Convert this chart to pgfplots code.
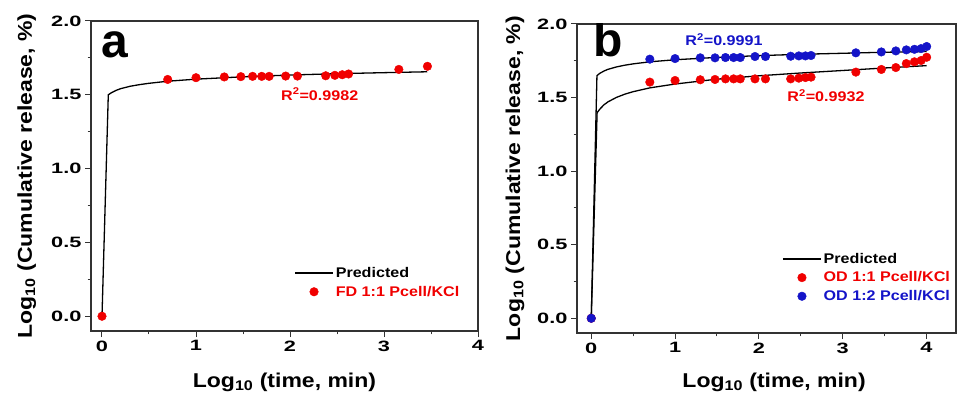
\documentclass[border=0pt]{standalone}
\usepackage{fontspec}
\setmainfont{Liberation Sans}
\newfontfamily\lblfont[FakeStretch=1.15]{Liberation Sans}
\newfontfamily\tickfont[FakeStretch=1.45]{Liberation Sans}
\usepackage{pgfplots}
\pgfplotsset{compat=1.18}
\definecolor{myred}{RGB}{240,0,0}
\definecolor{myblue}{RGB}{20,20,200}
\pgfplotsset{
  panel/.style={
    scale only axis,
    axis line style={black!80, line width=1.2pt},
    every tick/.style={black!80, line width=1pt},
    tick pos=left, tick align=outside,
    major tick length=6pt, minor tick length=3.5pt,
    ymin=-0.1, ymax=2.0,
    ytick={0,0.5,1,1.5,2}, minor ytick={0.25,0.75,1.25,1.75},
    xtick={0,1,2,3,4}, minor xtick={0.5,1.5,2.5,3.5},
    /pgf/number format/assume math mode=true,
    ticklabel style={font=\tickfont\bfseries\fontsize{15}{17}\selectfont},
    yticklabel style={/pgf/number format/fixed, /pgf/number format/fixed zerofill, /pgf/number format/precision=1},
    label style={font=\lblfont\bfseries\fontsize{20}{24}\selectfont, inner sep=0pt},
    legend style={draw=none, fill=none, font=\lblfont\bfseries\fontsize{14}{16}\selectfont, cells={anchor=west}, row sep=3pt},
    xlabel={Log\textsubscript{10} (time, min)},
    ylabel={Log\textsubscript{10} (Cumulative release, \%)},
  },
  predline/.style={black, line width=1.3pt, legend image code/.code={\draw[black,line width=1.5pt] (0pt,0pt) -- (38pt,0pt);}},
  dots/.style={only marks, mark=*, mark size=4.3pt, color=#1, mark options={draw=none, fill=#1},
     legend image code/.code={\draw[mark repeat=2,mark phase=2,##1] plot coordinates {(0pt,0pt) (19pt,0pt) (38pt,0pt)};}},
}
\begin{document}
\begin{tikzpicture}
\useasboundingbox (0,0) rectangle (957pt,393pt);
% ---------------- panel a
\begin{axis}[panel, at={(91pt,62pt)}, anchor=south west, width=387pt, height=310pt,
  xmin=-0.117, xmax=4.0,
  xlabel style={at={(axis description cs:0.5,-0.181)}, anchor=base},
  ylabel style={at={(axis description cs:-0.1525,0.5)}, anchor=base},
  legend style={at={(axis description cs:0.517,0.219)}, anchor=north west}]
\addplot[predline] coordinates {(0,0) (0.067,1.500) (0.1,1.514) (0.15,1.530) (0.2,1.542) (0.3,1.558) (0.4,1.569) (0.5,1.578) (0.7,1.592) (1,1.606) (1.5,1.622) (2,1.634) (2.5,1.643) (3,1.650) (3.46,1.656)};
\addlegendentry{Predicted}
\addplot[dots=myred] coordinates {(0,0) (0.699,1.604) (1.000,1.616) (1.301,1.621) (1.477,1.623) (1.602,1.625) (1.699,1.625) (1.778,1.625) (1.954,1.627) (2.079,1.627) (2.380,1.629) (2.477,1.632) (2.556,1.636) (2.623,1.641) (3.158,1.672) (3.462,1.693)};
\addlegendentry{\textcolor{myred}{FD 1:1 Pcell/KCl}}
\node[anchor=base west, inner sep=0pt, font=\bfseries\fontsize{48}{50}\selectfont] at (axis cs:-0.01,1.756) {a};
\node[anchor=base west, inner sep=0pt, text=myred, font=\lblfont\bfseries\fontsize{14}{16}\selectfont] at (axis cs:1.904,1.464) {R\textsuperscript{2}=0.9982};
\end{axis}
% ---------------- panel b
\begin{axis}[panel, at={(577pt,60pt)}, anchor=south west, width=379pt, height=309pt,
  xmin=-0.17, xmax=4.353,
  xlabel style={at={(axis description cs:0.52,-0.176)}, anchor=base},
  ylabel style={at={(axis description cs:-0.150,0.5)}, anchor=base},
  legend style={at={(axis description cs:0.533,0.272)}, anchor=north west}]
\addplot[predline] coordinates {(0,0) (0.068,1.649) (0.1,1.664) (0.15,1.680) (0.2,1.692) (0.3,1.708) (0.4,1.720) (0.5,1.729) (0.7,1.743) (1,1.757) (1.5,1.773) (2,1.785) (2.5,1.794) (3,1.801) (3.5,1.808) (4.003,1.813)};
\addlegendentry{Predicted}
\addplot[predline, forget plot] coordinates {(0,0) (0.07,1.397) (0.1,1.420) (0.15,1.450) (0.2,1.471) (0.3,1.501) (0.4,1.523) (0.5,1.540) (0.7,1.566) (1,1.592) (1.5,1.625) (2,1.648) (2.5,1.667) (3,1.684) (3.5,1.701) (4.003,1.717)};
\addplot[dots=myred] coordinates {(0,0) (0.699,1.605) (1.000,1.616) (1.301,1.621) (1.477,1.623) (1.602,1.627) (1.699,1.627) (1.778,1.627) (1.954,1.627) (2.079,1.627) (2.380,1.627) (2.477,1.632) (2.556,1.636) (2.623,1.639) (3.158,1.673) (3.462,1.691) (3.635,1.704) (3.760,1.731) (3.857,1.743) (3.937,1.752) (4.003,1.774)};
\addlegendentry{\textcolor{myred}{OD 1:1 Pcell/KCl}}
\addplot[dots=myblue] coordinates {(0,0) (0.699,1.761) (1.000,1.765) (1.301,1.770) (1.477,1.770) (1.602,1.772) (1.699,1.772) (1.778,1.772) (1.954,1.779) (2.079,1.779) (2.380,1.781) (2.477,1.783) (2.556,1.783) (2.623,1.786) (3.158,1.804) (3.462,1.810) (3.635,1.817) (3.760,1.824) (3.857,1.828) (3.937,1.833) (4.003,1.847)};
\addlegendentry{\textcolor{myblue}{OD 1:2 Pcell/KCl}}
\node[anchor=base west, inner sep=0pt, font=\bfseries\fontsize{48}{50}\selectfont] at (axis cs:0.024,1.776) {b};
\node[anchor=base west, inner sep=0pt, text=myblue, font=\lblfont\bfseries\fontsize{14}{16}\selectfont] at (axis cs:1.122,1.851) {R\textsuperscript{2}=0.9991};
\node[anchor=base west, inner sep=0pt, text=myred, font=\lblfont\bfseries\fontsize{14}{16}\selectfont] at (axis cs:2.339,1.471) {R\textsuperscript{2}=0.9932};
\end{axis}
\end{tikzpicture}
\end{document}
